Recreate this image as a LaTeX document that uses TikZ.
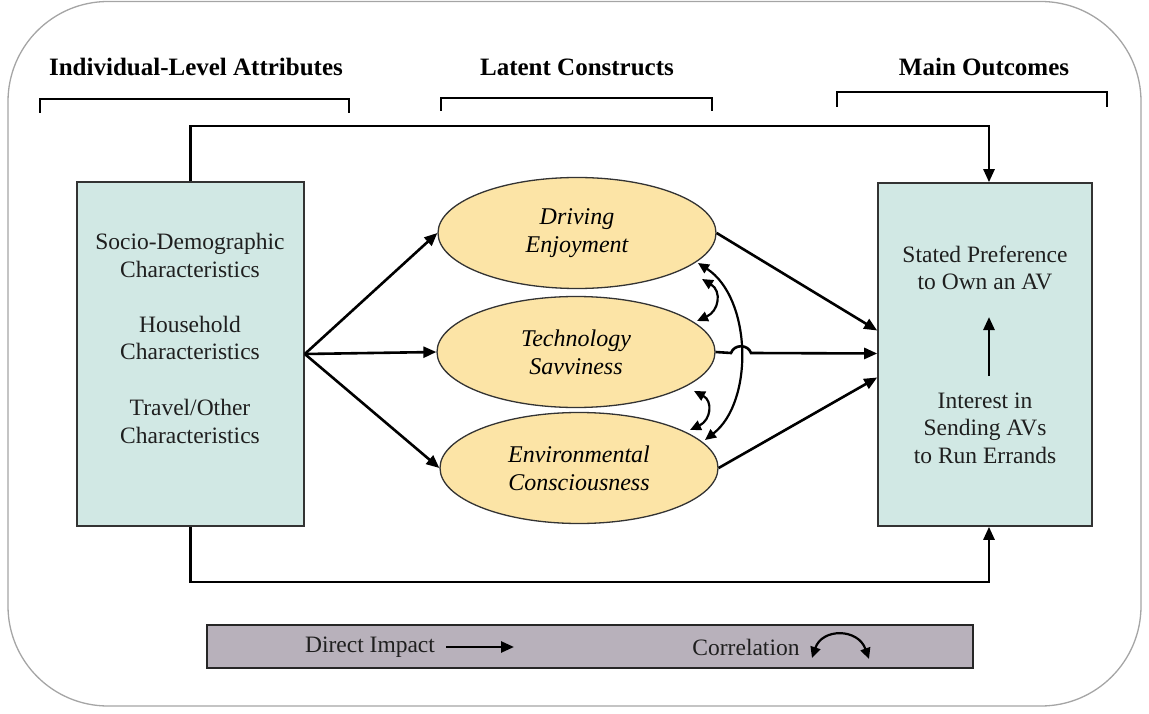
\documentclass[tikz,border=0pt]{standalone}
\usepackage{fontspec}
\setmainfont{Liberation Serif}
\usetikzlibrary{arrows.meta,shapes.geometric,calc}
\definecolor{boxfill}{RGB}{209,232,228}
\definecolor{ellfill}{RGB}{252,228,166}
\definecolor{legfill}{RGB}{184,177,187}
\definecolor{framegray}{RGB}{165,165,165}
\begin{document}
\begin{tikzpicture}[x=1pt,y=-1pt,
  conn/.style={line width=2.6pt, draw=black},
  arr/.style={conn, -{Triangle[length=13pt,width=11pt]}},
  dbl/.style={line width=2.2pt, draw=black, {Triangle[length=11pt,width=10pt]}-{Triangle[length=11pt,width=10pt]}},
  box/.style={draw=black!80, line width=1.6pt, fill=boxfill, inner sep=0pt},
  ell/.style={ellipse, draw=black!80, line width=1.3pt, fill=ellfill, minimum width=278pt, minimum height=111pt, inner sep=0pt, align=center, font=\itshape\fontsize{24}{28}\selectfont},
  txt/.style={align=center, font=\fontsize{23.5}{27.5}\selectfont, text=black!88},
  head/.style={font=\bfseries\fontsize{25}{30}\selectfont},
  brk/.style={line width=2.6pt, draw=black}]
\useasboundingbox (0,0) rectangle (1149,714);
% outer frame
\draw[framegray, line width=1.3pt, rounded corners=100pt] (8,1.5) rectangle (1141,706);
% headings
\node[head] (h1) at (196,67) {Individual-Level Attributes};
\node[head] (h2) at (577,67) {Latent Constructs};
\node[head] (h3) at (984,67) {Main Outcomes};
% brackets
\draw[brk] (40,113) -- (40,99) -- (349,99) -- (349,113);
\draw[brk] (441,111) -- (441,98) -- (712,98) -- (712,111);
\draw[brk] (837,107) -- (837,92) -- (1107,92) -- (1107,107);
% boxes
\node[box, minimum width=227pt, minimum height=344pt] (L) at (190.5,354) {};
\node[box, minimum width=214pt, minimum height=343pt] (R) at (985,354.5) {};
\node[txt] (t1) at (190,255.5) {Socio-Demographic\\Characteristics};
\node[txt] (t2) at (190,338) {Household\\Characteristics};
\node[txt] (t3) at (190,421.5) {Travel/Other\\Characteristics};
\node[txt] (r1) at (985,268) {Stated Preference\\to Own an AV};
\node[txt] (r2) at (985,428) {Interest in\\Sending AVs\\to Run Errands};
% ellipses
\node[ell] (DE) at (577,233) {Driving\\Enjoyment};
\node[ell] (TS) at (576,352) {Technology\\Savviness};
\node[ell] (EC) at (579,468) {Environmental\\Consciousness};
% arrows left box -> ellipses
\draw[arr] (L.east) -- (DE.west);
\draw[arr] (L.east) -- (TS.west);
\draw[arr] (L.east) -- (EC.west);
% ellipses -> right box
\draw[arr] (DE.east) -- ($(R.west)+(0,-24)$);
\coordinate (j1) at (731,353);
\coordinate (j2) at (751,353);
\draw[arr] (TS.east) -- (j1) .. controls (734,344) and (748,344) .. (j2) -- ($(R.west)+(0,-1)$);
\draw[arr] (EC.east) -- ($(R.west)+(0,23)$);
% direct connectors
\draw[arr] (L.north) -- ++(0,-55) -| ($(R.north)+(4,0)$);
\draw[arr] (L.south) -- ++(0,55) -| ($(R.south)+(4,0)$);
% inner arrow
\coordinate (ia1) at (989,376);
\coordinate (ia2) at (989,317);
\draw[arr] (ia1) -- (ia2);
% correlations
\coordinate (c1a) at (702,279);
\coordinate (c1b) at (697,321);
\draw[dbl] (c1a) .. controls (722,291) and (719,311) .. (c1b);
\coordinate (c2a) at (694,391);
\coordinate (c2b) at (690,430);
\draw[dbl] (c2a) .. controls (713,401) and (711,420) .. (c2b);
\coordinate (c3a) at (698,263);
\coordinate (c3b) at (705,440);
\draw[dbl] (c3a) .. controls (752,298) and (754,402) .. (c3b);
% legend
\node[draw=black!85, line width=1.8pt, fill=legfill, minimum width=766pt, minimum height=43pt] (leg) at (590,646.5) {};
\node[txt] (di) at (370,647) {Direct Impact};
\coordinate (la1) at (446,647);
\coordinate (la2) at (514,647);
\draw[arr] (la1) -- (la2);
\node[txt] (co) at (746,647) {Correlation};
\coordinate (lc1) at (812,658);
\coordinate (lc2) at (869,659);
\draw[dbl] (lc1) .. controls (822,628) and (858,628) .. (lc2);
\end{tikzpicture}
\end{document}
